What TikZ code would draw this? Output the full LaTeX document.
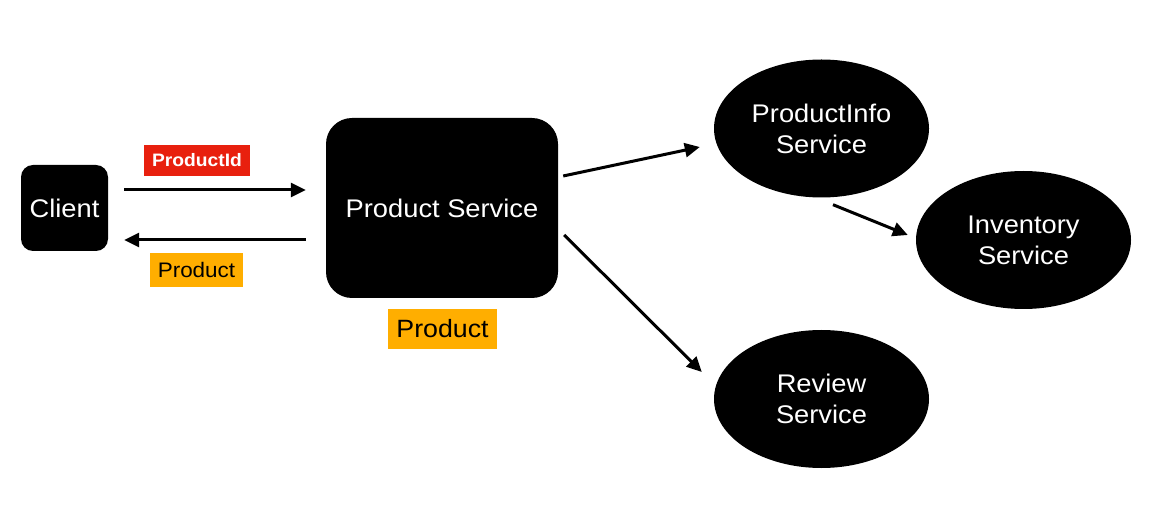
\documentclass[tikz,border=0pt]{standalone}
\usepackage{fontspec}
\setmainfont{Liberation Sans}[FakeStretch=1.07]
\usetikzlibrary{calc,arrows.meta,shapes.geometric}
\definecolor{lblred}{RGB}{232,32,14}
\definecolor{lblorange}{RGB}{255,174,0}
\tikzset{
  blackbox/.style={fill=black,text=white,inner sep=0pt,align=center,font=\fontsize{25.5}{31}\selectfont},
  svc/.style={ellipse,fill=black,text=white,inner sep=0pt,minimum width=215pt,minimum height=138pt,align=center,font=\fontsize{25.5}{31}\selectfont},
  lbl/.style={inner sep=0pt,align=center},
  arr/.style={line width=3pt,-{Triangle[length=15pt,width=14pt]}}
}
\begin{document}
\begin{tikzpicture}[x=1pt,y=-1pt]
\useasboundingbox (0,0) rectangle (1159,526);
\node[blackbox,rounded corners=12pt,minimum width=87pt,minimum height=86pt] (client) at (64.5,208) {Client};
\node[blackbox,rounded corners=26pt,minimum width=232pt,minimum height=180pt] (ps) at (442,208) {Product Service};
\node[svc] (pi) at (821.5,128.5) {ProductInfo\\Service};
\node[svc] (inv) at (1023.5,240) {Inventory\\Service};
\node[svc] (rev) at (821.5,399) {Review\\Service};
\node[lbl,fill=lblred,text=white,minimum width=106pt,minimum height=31pt,font=\bfseries\fontsize{18}{20}\selectfont] (pid) at (197,160.5) {ProductId};
\node[lbl,fill=lblorange,text=black,minimum width=93pt,minimum height=34pt,font=\fontsize{21}{24}\selectfont] (prodsmall) at (196.5,270) {Product};
\node[lbl,fill=lblorange,text=black,minimum width=109pt,minimum height=40pt,font=\fontsize{25}{28}\selectfont] (prodbig) at (442.5,329) {Product};
\draw[arr] ($(client.east)+(16,-18)$) -- ($(ps.west)+(-20,-18)$);
\draw[arr] ($(ps.west)+(-20,32)$) -- ($(client.east)+(16,32)$);
\draw[arr] ($(ps.east)+(5,-32)$) -- ($(pi.west)+(-14,18.5)$);
\draw[arr] ($(pi.south)+(11.5,7)$) -- ($(inv.west)+(-8,-5)$);
\draw[arr] ($(ps.east)+(6,27)$) -- ($(rev.west)+(-12,-27)$);
\end{tikzpicture}
\end{document}
